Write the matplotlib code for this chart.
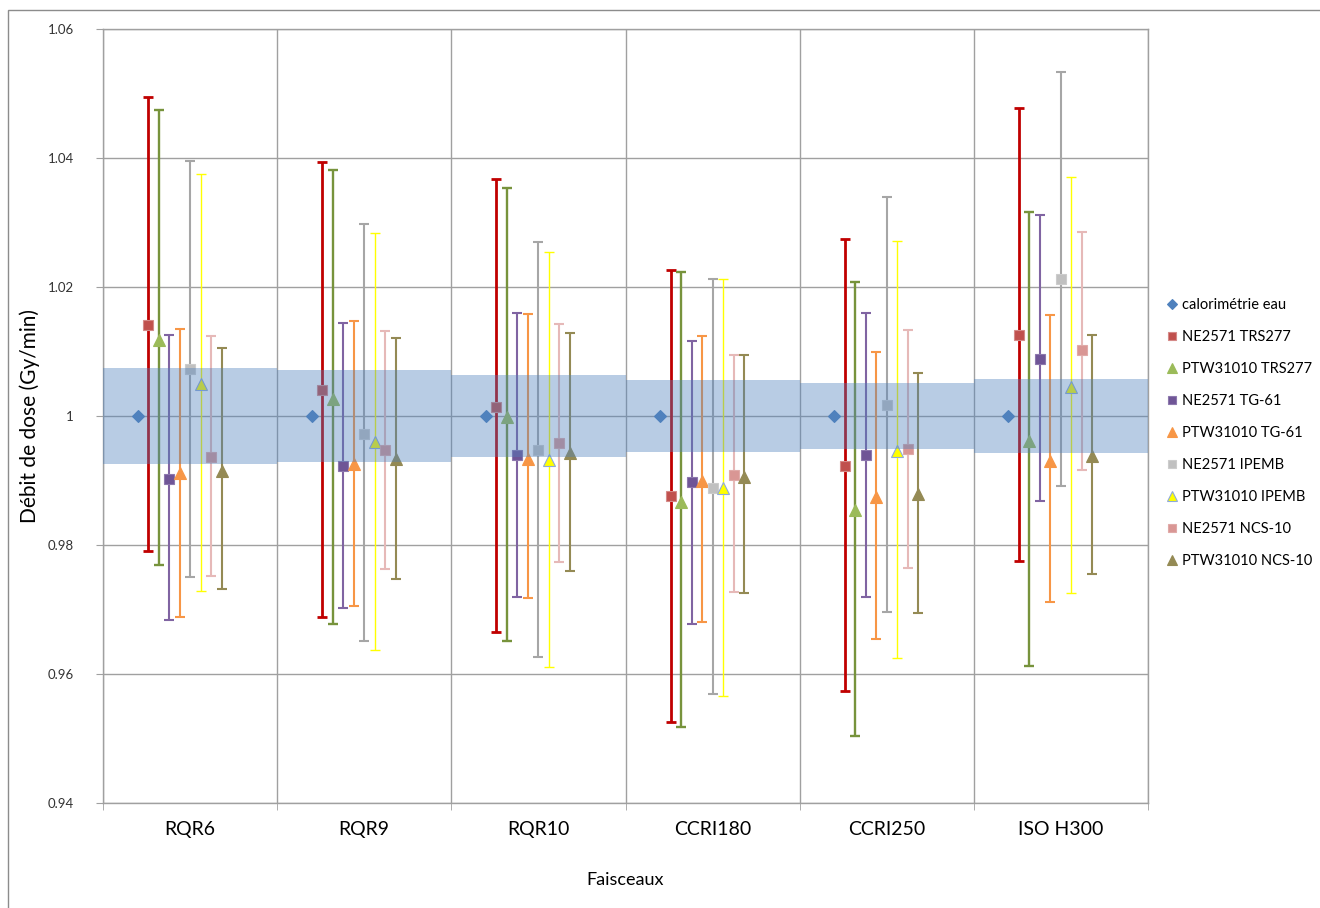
import numpy as np
import matplotlib
matplotlib.use("Agg")
import matplotlib.pyplot as plt
import matplotlib.patches as patches
from matplotlib.lines import Line2D

plt.rcParams['font.family'] = ['Lato', 'DejaVu Sans']

# ------------------------------
# Data
# ------------------------------
categories = ["RQR6", "RQR9", "RQR10", "CCRI180", "CCRI250", "ISO H300"]

# half-width of the calorimetry uncertainty band
band_half = [0.0074, 0.0071, 0.0064, 0.0056, 0.0051, 0.0057]

series_names = ["calorimétrie eau", "NE2571 TRS277", "PTW31010 TRS277", "NE2571 TG-61",
                "PTW31010 TG-61", "NE2571 IPEMB", "PTW31010 IPEMB", "NE2571 NCS-10",
                "PTW31010 NCS-10"]

calo_val = [1.000, 1.000, 1.000, 1.000, 1.000, 1.000]

ne_trs_val = [1.0141, 1.0040, 1.0014, 0.9876, 0.9922, 1.0125]
ne_trs_hi = [1.0494, 1.0394, 1.0368, 1.0227, 1.0275, 1.0478]
ne_trs_lo = [0.9791, 0.9689, 0.9665, 0.9525, 0.9573, 0.9775]

ptw_trs_val = [1.0118, 1.0027, 0.9999, 0.9867, 0.9854, 0.9962]
ptw_trs_hi = [1.0474, 1.0382, 1.0353, 1.0223, 1.0207, 1.0316]
ptw_trs_lo = [0.9769, 0.9677, 0.9651, 0.9518, 0.9504, 0.9612]

ne_tg_val = [0.9902, 0.9922, 0.9940, 0.9897, 0.9939, 1.0088]
ne_tg_hi = [1.0126, 1.0144, 1.0160, 1.0117, 1.0160, 1.0311]
ne_tg_lo = [0.9683, 0.9702, 0.9720, 0.9678, 0.9720, 0.9868]

ptw_tg_val = [0.9911, 0.9926, 0.9934, 0.9899, 0.9875, 0.9931]
ptw_tg_hi = [1.0135, 1.0148, 1.0158, 1.0124, 1.0099, 1.0156]
ptw_tg_lo = [0.9689, 0.9706, 0.9718, 0.9680, 0.9655, 0.9712]

ne_ip_val = [1.0073, 0.9972, 0.9947, 0.9889, 1.0017, 1.0212]
ne_ip_hi = [1.0396, 1.0297, 1.0270, 1.0213, 1.0339, 1.0534]
ne_ip_lo = [0.9751, 0.9651, 0.9626, 0.9569, 0.9696, 0.9891]

ptw_ip_val = [1.0050, 0.9959, 0.9932, 0.9889, 0.9946, 1.0045]
ptw_ip_hi = [1.0375, 1.0283, 1.0255, 1.0212, 1.0271, 1.0371]
ptw_ip_lo = [0.9729, 0.9637, 0.9611, 0.9566, 0.9625, 0.9725]

ne_ncs_val = [0.9937, 0.9947, 0.9958, 0.9908, 0.9949, 1.0102]
ne_ncs_hi = [1.0124, 1.0132, 1.0142, 1.0095, 1.0133, 1.0286]
ne_ncs_lo = [0.9752, 0.9763, 0.9773, 0.9727, 0.9764, 0.9917]

ptw_ncs_val = [0.9915, 0.9933, 0.9942, 0.9906, 0.9879, 0.9938]
ptw_ncs_hi = [1.0105, 1.0121, 1.0129, 1.0095, 1.0066, 1.0125]
ptw_ncs_lo = [0.9732, 0.9748, 0.9759, 0.9725, 0.9695, 0.9755]

y_ticks = [0.94, 0.96, 0.98, 1.00, 1.02, 1.04, 1.06]
y_ticklabels = ["0.94", "0.96", "0.98", "1", "1.02", "1.04", "1.06"]

# ------------------------------
# Styles
# ------------------------------
# (marker, face colour, edge colour, marker size, error bar colour, error bar width)
styles = [
    ("D", "#4F81BD", "#4F81BD", 6.5, None, 0),
    ("s", "#C0504D", "#D58A88", 7, "#C00000", 2.0),
    ("^", "#9BBB59", "#9BBB59", 8, "#77933C", 1.7),
    ("s", "#6F5596", "#8C78AD", 7, "#8064A2", 1.5),
    ("^", "#F79646", "#F79646", 8, "#F79646", 1.5),
    ("s", "#C0C0C0", "#CCCCCC", 7, "#A6A6A6", 1.5),
    ("^", "#FFFF00", "#8EAADB", 8, "#FFFF00", 1.0),
    ("s", "#D99694", "#E0AAA8", 7, "#E6B9B8", 1.5),
    ("^", "#948A54", "#948A54", 8, "#948A54", 1.5),
]

series = [
    (calo_val, None, None),
    (ne_trs_val, ne_trs_lo, ne_trs_hi),
    (ptw_trs_val, ptw_trs_lo, ptw_trs_hi),
    (ne_tg_val, ne_tg_lo, ne_tg_hi),
    (ptw_tg_val, ptw_tg_lo, ptw_tg_hi),
    (ne_ip_val, ne_ip_lo, ne_ip_hi),
    (ptw_ip_val, ptw_ip_lo, ptw_ip_hi),
    (ne_ncs_val, ne_ncs_lo, ne_ncs_hi),
    (ptw_ncs_val, ptw_ncs_lo, ptw_ncs_hi),
]

GRID = "#A0A0A0"
STEP = 0.0603  # horizontal spacing between series inside a category

fig = plt.figure(figsize=(13.2, 9.08), dpi=100)
ax = fig.add_axes([103 / 1320, 1 - 803 / 908, (1148 - 103) / 1320, (803 - 29) / 908])

xc = np.arange(len(categories))

# series with asymmetric error bars
for j, ((vals, lo, hi), (mk, fc, ec, ms, bc, lw)) in enumerate(zip(series, styles)):
    x = xc + (j - 5) * STEP
    v = np.array(vals)
    if lo is not None:
        yerr = [v - np.array(lo), np.array(hi) - v]
        ax.errorbar(x, v, yerr=yerr, fmt="none", ecolor=bc, elinewidth=lw,
                    capsize=3.5, capthick=lw, zorder=3)
    ax.plot(x, v, linestyle="none", marker=mk, markersize=ms, markerfacecolor=fc,
            markeredgecolor=ec, markeredgewidth=0.8, zorder=4)

# calorimetry uncertainty band drawn on top, translucent
half = np.array(band_half)
ax.bar(xc, 2 * half, bottom=1 - half, width=1.0, color="#4F81BD", alpha=0.4,
       linewidth=0, zorder=5)

# axes
ax.set_xlim(-0.5, len(categories) - 0.5)
ax.set_ylim(y_ticks[0], y_ticks[-1])
ax.set_yticks(y_ticks)
ax.set_yticklabels(y_ticklabels, fontsize=9.5, color="#333333")
ax.set_xticks(xc)
ax.set_xticklabels(categories, fontsize=14)
ax.set_xticks(np.arange(len(categories) + 1) - 0.5, minor=True)
ax.tick_params(axis="x", which="major", length=0, pad=13)
ax.tick_params(axis="x", which="minor", length=5, color=GRID, direction="out")
ax.tick_params(axis="y", length=5, color=GRID, direction="out", pad=16)

ax.set_axisbelow(True)
ax.grid(axis="y", color=GRID, linewidth=1.0)
ax.grid(axis="x", which="minor", color=GRID, linewidth=1.0)
for s in ax.spines.values():
    s.set_color(GRID)
    s.set_linewidth(1.0)

ax.set_xlabel("Faisceaux", fontsize=13)
ax.xaxis.set_label_coords(0.5, -(872 - 803) / 774)
ax.set_ylabel("Débit de dose (Gy/min)", fontsize=15)
ax.yaxis.set_label_coords(-(103 - 40) / 1045, 0.5)

# legend with marker-only handles
handles = [Line2D([], [], linestyle="none", marker=mk, markersize=ms * 0.85,
                  markerfacecolor=fc, markeredgecolor=ec, markeredgewidth=0.8)
           for (mk, fc, ec, ms, bc, lw) in styles]
ax.legend(handles, series_names, loc="center left", bbox_to_anchor=(1.012, 0.478),
          frameon=False, fontsize=10.5, handlelength=0.8, handletextpad=0.3,
          labelspacing=1.24, borderaxespad=0)

# chart-area border (top and left visible)
frame = patches.Rectangle((8 / 1320, -0.05), 1.2, 1.05 - 10 / 908, transform=fig.transFigure,
                          facecolor="none", edgecolor="#8C8C8C", linewidth=1.0,
                          clip_on=False)
fig.patches.append(frame)

fig.savefig("out.png", dpi=100)
